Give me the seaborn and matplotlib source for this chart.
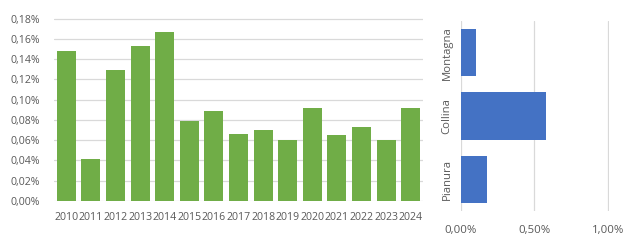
import matplotlib
matplotlib.use("Agg")
import matplotlib.pyplot as plt
import seaborn as sns
import pandas as pd
from matplotlib.ticker import FuncFormatter, FixedLocator

sns.set_theme(style="white")
plt.rcParams['font.family'] = ['Open Sans', 'DejaVu Sans']

years = [str(y) for y in range(2010, 2025)]
year_values = [0.148, 0.041, 0.129, 0.153, 0.167, 0.079, 0.089, 0.066, 0.070,
               0.060, 0.092, 0.065, 0.073, 0.060, 0.092]  # percent
zones = ["Montagna", "Collina", "Pianura"]
zone_values = [0.10, 0.58, 0.18]  # percent
y_ticks = [0.00, 0.02, 0.04, 0.06, 0.08, 0.10, 0.12, 0.14, 0.16, 0.18]
x_ticks = [0.0, 0.5, 1.0]

green = "#70AD47"
blue = "#4472C4"
grid_c = "#D9D9D9"
txt_c = "#595959"

fig = plt.figure(figsize=(6.3, 2.4), dpi=100)
ax1 = fig.add_axes([54/630, 1-201/240, (423-54)/630, (201-18)/240])
ax2 = fig.add_axes([461/630, 1-211/240, (609-461)/630, (211-21)/240])

df1 = pd.DataFrame({"year": years, "val": year_values})
sns.barplot(data=df1, x="year", y="val", color=green, saturation=1,
            width=0.77, linewidth=0, ax=ax1)
ax1.set_ylim(0, 0.1805)
ax1.set_xlim(-0.5, len(years) - 0.5)
ax1.yaxis.set_major_locator(FixedLocator(y_ticks))
fmt = lambda v, p: f"{v:.2f}%".replace(".", ",")
ax1.yaxis.set_major_formatter(FuncFormatter(fmt))
ax1.grid(axis="y", color=grid_c, linewidth=0.9)
ax1.set_axisbelow(True)
for s in ax1.spines.values():
    s.set_visible(False)
ax1.set_xlabel("")
ax1.set_ylabel("")
ax1.tick_params(axis="both", length=0, labelsize=7.6, colors=txt_c)
ax1.tick_params(axis="x", pad=8)
ax1.tick_params(axis="y", pad=10)

df2 = pd.DataFrame({"zone": zones, "val": zone_values})
sns.barplot(data=df2, y="zone", x="val", color=blue, saturation=1,
            width=0.75, linewidth=0, orient="h", ax=ax2)
ax2.set_xlim(0, 1.007)
ax2.xaxis.set_major_locator(FixedLocator(x_ticks))
ax2.xaxis.set_major_formatter(FuncFormatter(fmt))
ax2.grid(axis="x", color=grid_c, linewidth=0.9)
ax2.set_axisbelow(True)
for s in ax2.spines.values():
    s.set_visible(False)
ax2.set_xlabel("")
ax2.set_ylabel("")
ax2.tick_params(axis="both", length=0, labelsize=8.2, colors=txt_c)
ax2.tick_params(axis="x", pad=10)
for lab in ax2.get_yticklabels():
    lab.set_rotation(90)
    lab.set_va("center")
    lab.set_ha("center")
ax2.tick_params(axis="y", pad=10)

fig.savefig("out.png", dpi=100)
